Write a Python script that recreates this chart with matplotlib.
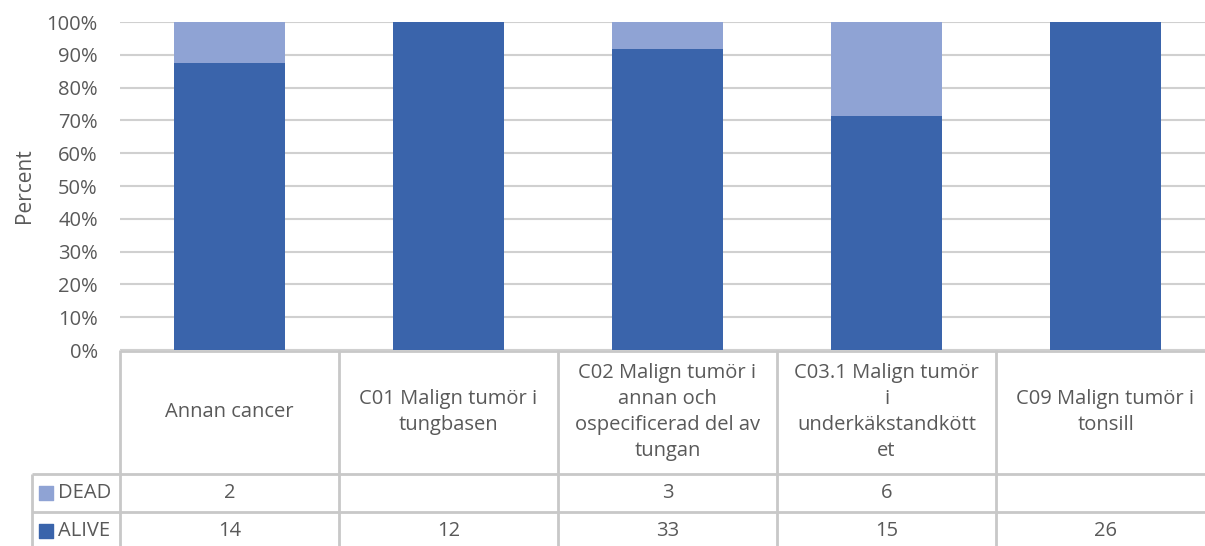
import numpy as np
import matplotlib.pyplot as plt

categories = ['Annan cancer',
              'C01 Malign tumör i\ntungbasen',
              'C02 Malign tumör i\nannan och\nospecificerad del av\ntungan',
              'C03.1 Malign tumör\ni\nunderkäkstandkött\net',
              'C09 Malign tumör i\ntonsill']
alive = [14, 12, 33, 15, 26]
dead = [2, 0, 3, 6, 0]

alive_color = '#3A64AB'
dead_color = '#8FA3D4'
text_color = '#595959'
line_color = '#C8C8C8'

plt.rcParams['font.family'] = ['Open Sans', 'DejaVu Sans']

W, H = 1205, 546
fig = plt.figure(figsize=(W / 100, H / 100), dpi=100)

# pixel layout
x0, x1 = 120, 1215
ytop, ybase = 22, 350
ax = fig.add_axes([x0 / W, 1 - ybase / H, (x1 - x0) / W, (ybase - ytop) / H])

alive_a = np.array(alive, dtype=float)
dead_a = np.array(dead, dtype=float)
total = alive_a + dead_a
alive_pct = alive_a / total * 100
dead_pct = dead_a / total * 100

x = np.arange(len(categories))
ax.bar(x, alive_pct, width=0.507, color=alive_color, zorder=3)
ax.bar(x, dead_pct, width=0.507, bottom=alive_pct, color=dead_color, zorder=3)

ax.set_xlim(-0.5, len(categories) - 0.5)
ax.set_ylim(0, 100)
ax.set_yticks(np.arange(0, 101, 10))
ax.set_yticklabels([f'{v}%' for v in range(0, 101, 10)])
ax.tick_params(axis='y', length=0, labelsize=14.5, colors=text_color, pad=16)
ax.set_xticks([])
ax.grid(axis='y', color='#D0D0D0', lw=1.5, zorder=0)
for s in ax.spines.values():
    s.set_visible(False)
ax.set_ylabel('Percent', fontsize=15, color=text_color, labelpad=8)

# data table below the plot, drawn in pixel coordinates
tx0 = 32
tab = fig.add_axes([0, 0, 1, 1 - ybase / H], facecolor='none')
tab.set_xlim(0, W)
tab.set_ylim(H, ybase)
tab.axis('off')

col_w = (x1 - x0) / len(categories)
edges = [x0 + i * col_w for i in range(len(categories) + 1)]
r_head, r_dead, r_bot = 474, 512, H

lk = dict(color=line_color, lw=2, solid_capstyle='butt')
tab.plot([x0, x1], [ybase + 1, ybase + 1], **lk)
tab.plot([tx0, x1], [r_head, r_head], **lk)
tab.plot([tx0, x1], [r_dead, r_dead], **lk)
for e in edges:
    tab.plot([e, e], [ybase, r_bot], **lk)
tab.plot([tx0, tx0], [r_head, r_bot], **lk)

fs = 14.5
for i, cat in enumerate(categories):
    cx = (edges[i] + edges[i + 1]) / 2
    tab.text(cx, (ybase + r_head) / 2, cat, ha='center', va='center',
             fontsize=fs, color=text_color, linespacing=1.38)
    if dead[i]:
        tab.text(cx, (r_head + r_dead) / 2, str(dead[i]), ha='center',
                 va='center', fontsize=fs, color=text_color)
    tab.text(cx, (r_dead + r_bot) / 2 + 2, str(alive[i]), ha='center',
             va='center', fontsize=fs, color=text_color)

for label, color, ymid in [('DEAD', dead_color, (r_head + r_dead) / 2),
                           ('ALIVE', alive_color, (r_dead + r_bot) / 2 + 2)]:
    tab.scatter([46], [ymid], marker='s', s=110, color=color)
    tab.text(58, ymid, label, ha='left', va='center', fontsize=fs,
             color=text_color)

fig.savefig('out.png', dpi=100)
